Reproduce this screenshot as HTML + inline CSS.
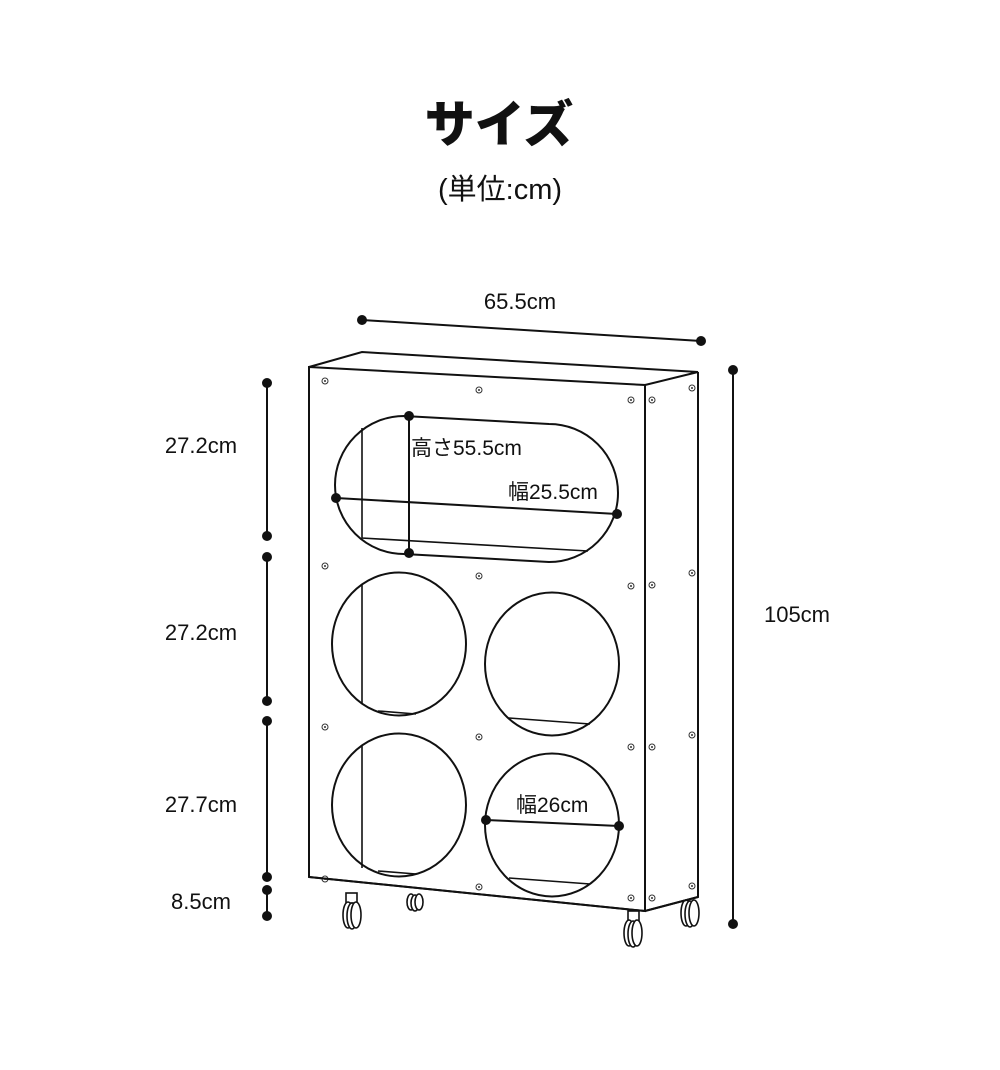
<!DOCTYPE html>
<html><head><meta charset="utf-8"><style>
html,body{margin:0;padding:0;background:#fff;}
svg{display:block;}
text{font-family:"Liberation Sans","Noto Sans CJK JP",sans-serif;fill:#111;}
</style></head><body>
<svg width="1000" height="1070" viewBox="0 0 1000 1070" xmlns="http://www.w3.org/2000/svg">
<text x="499" y="142" text-anchor="middle" font-size="50" font-weight="900" style="font-family:'Noto Sans CJK JP',sans-serif">サイズ</text>
<text x="500" y="199" text-anchor="middle" font-size="29">(単位:cm)</text>

<g fill="none" stroke="#111" stroke-width="2">
<path d="M309,367 L362,352 L698,372 L645,385"/>
<path d="M309,367 L645,385 L645,911 L309,877 Z"/>
<path d="M698,372 L698,897 L645,911"/>
<path d="M404,416 L549,424 A68.5,68.5 0 0 1 549,562 L404,554 A69,69 0 0 1 404,416 Z"/>
<path d="M362,428 L362,538 L588,551" stroke-width="1.6"/>
<ellipse cx="399" cy="644" rx="67" ry="71.5"/>
<ellipse cx="552" cy="664" rx="67" ry="71.5"/>
<ellipse cx="399" cy="805" rx="67" ry="71.5"/>
<ellipse cx="552" cy="825" rx="67" ry="71.5"/>
<path d="M362,585 L362,704 M378,711 L416,714" stroke-width="1.6"/>
<path d="M509,718 L590,724" stroke-width="1.6"/>
<path d="M362,746 L362,868 M378,871 L416,874" stroke-width="1.6"/>
<path d="M509,878 L590,884" stroke-width="1.6"/>
</g>

<g fill="none" stroke="#333" stroke-width="1">
<circle cx="325" cy="381" r="3"/><circle cx="479" cy="390" r="3"/><circle cx="631" cy="400" r="3"/>
<circle cx="325" cy="566" r="3"/><circle cx="479" cy="576" r="3"/><circle cx="631" cy="586" r="3"/>
<circle cx="325" cy="727" r="3"/><circle cx="479" cy="737" r="3"/><circle cx="631" cy="747" r="3"/>
<circle cx="325" cy="879" r="3"/><circle cx="479" cy="887" r="3"/><circle cx="631" cy="898" r="3"/>
<circle cx="652" cy="400" r="3"/><circle cx="692" cy="388" r="3"/>
<circle cx="652" cy="585" r="3"/><circle cx="692" cy="573" r="3"/>
<circle cx="652" cy="747" r="3"/><circle cx="692" cy="735" r="3"/>
<circle cx="652" cy="898" r="3"/><circle cx="692" cy="886" r="3"/>
</g>
<g fill="#333">
<circle cx="325" cy="381" r="1"/><circle cx="479" cy="390" r="1"/><circle cx="631" cy="400" r="1"/>
<circle cx="325" cy="566" r="1"/><circle cx="479" cy="576" r="1"/><circle cx="631" cy="586" r="1"/>
<circle cx="325" cy="727" r="1"/><circle cx="479" cy="737" r="1"/><circle cx="631" cy="747" r="1"/>
<circle cx="325" cy="879" r="1"/><circle cx="479" cy="887" r="1"/><circle cx="631" cy="898" r="1"/>
<circle cx="652" cy="400" r="1"/><circle cx="692" cy="388" r="1"/>
<circle cx="652" cy="585" r="1"/><circle cx="692" cy="573" r="1"/>
<circle cx="652" cy="747" r="1"/><circle cx="692" cy="735" r="1"/>
<circle cx="652" cy="898" r="1"/><circle cx="692" cy="886" r="1"/>
</g>

<g fill="#fff" stroke="#111" stroke-width="1.6">
<rect x="346" y="893" width="11" height="10"/>
<ellipse cx="348" cy="915" rx="5" ry="13"/><ellipse cx="352" cy="916" rx="5" ry="13"/><ellipse cx="356" cy="915" rx="5" ry="13"/>
<ellipse cx="411" cy="902" rx="4" ry="8"/><ellipse cx="415" cy="903" rx="4" ry="8"/><ellipse cx="419" cy="902" rx="4" ry="8"/>
<rect x="628" y="911" width="11" height="12"/>
<ellipse cx="629" cy="933" rx="5" ry="13"/><ellipse cx="633" cy="934" rx="5" ry="13"/><ellipse cx="637" cy="933" rx="5" ry="13"/>
<ellipse cx="686" cy="913" rx="5" ry="13"/><ellipse cx="690" cy="914" rx="5" ry="13"/><ellipse cx="694" cy="913" rx="5" ry="13"/>
</g>
<path d="M309,877 L645,911 L698,897" fill="none" stroke="#111" stroke-width="2"/>

<g stroke="#111" stroke-width="2" fill="none">
<line x1="362" y1="320" x2="701" y2="341"/>
<line x1="733" y1="370" x2="733" y2="924"/>
<line x1="267" y1="383" x2="267" y2="536"/>
<line x1="267" y1="557" x2="267" y2="701"/>
<line x1="267" y1="721" x2="267" y2="877"/>
<line x1="267" y1="890" x2="267" y2="916"/>
<line x1="409" y1="416" x2="409" y2="553"/>
<line x1="336" y1="498" x2="617" y2="514"/>
<line x1="486" y1="820" x2="619" y2="826"/>
</g>
<g fill="#111">
<circle cx="362" cy="320" r="5"/><circle cx="701" cy="341" r="5"/>
<circle cx="733" cy="370" r="5"/><circle cx="733" cy="924" r="5"/>
<circle cx="267" cy="383" r="5"/><circle cx="267" cy="536" r="5"/>
<circle cx="267" cy="557" r="5"/><circle cx="267" cy="701" r="5"/>
<circle cx="267" cy="721" r="5"/><circle cx="267" cy="877" r="5"/>
<circle cx="267" cy="890" r="5"/><circle cx="267" cy="916" r="5"/>
<circle cx="409" cy="416" r="5"/><circle cx="409" cy="553" r="5"/>
<circle cx="336" cy="498" r="5"/><circle cx="617" cy="514" r="5"/>
<circle cx="486" cy="820" r="5"/><circle cx="619" cy="826" r="5"/>
</g>

<g font-size="22">
<text x="520" y="309" text-anchor="middle">65.5cm</text>
<text x="797" y="622" text-anchor="middle">105cm</text>
<text x="201" y="453" text-anchor="middle">27.2cm</text>
<text x="201" y="640" text-anchor="middle">27.2cm</text>
<text x="201" y="812" text-anchor="middle">27.7cm</text>
<text x="201" y="909" text-anchor="middle">8.5cm</text>
</g>
<g font-size="21">
<text x="411" y="455">高さ55.5cm</text>
<text x="508" y="499">幅25.5cm</text>
<text x="516" y="812">幅26cm</text>
</g>
</svg>
</body></html>
